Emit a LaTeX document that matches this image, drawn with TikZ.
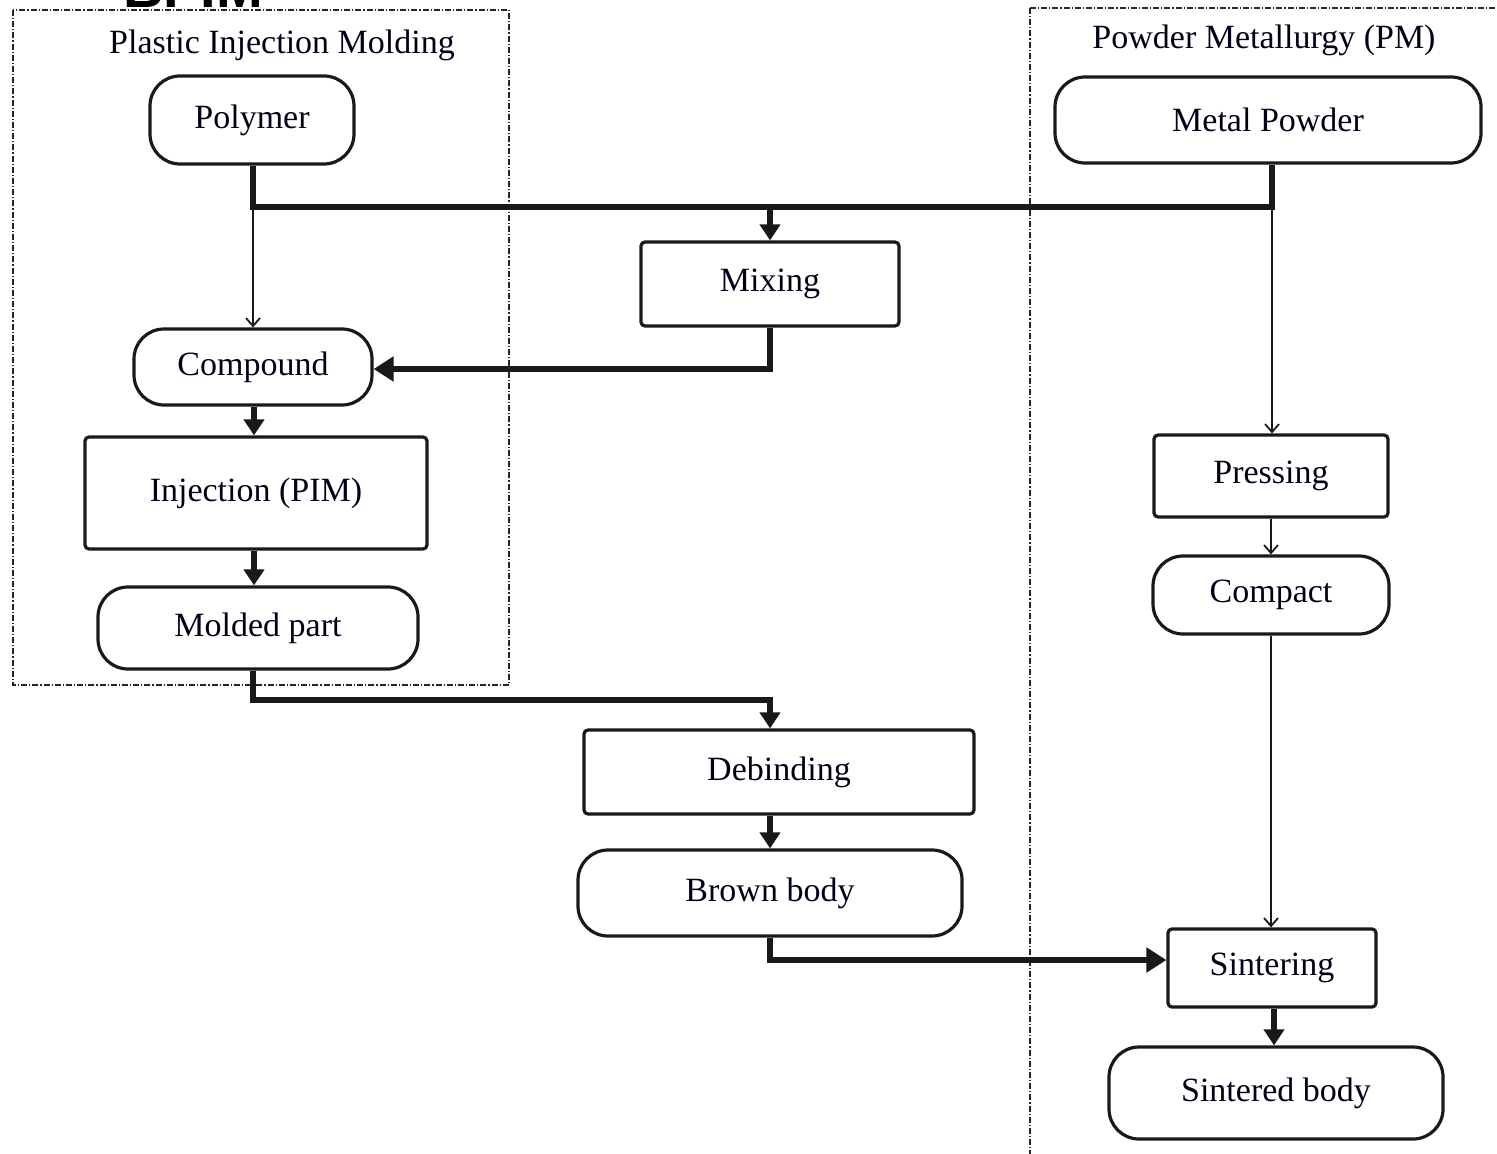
\documentclass[tikz,border=0pt]{standalone}
\usepackage{fontspec}
\setmainfont{Liberation Serif}
\newfontfamily\titlesans{Liberation Sans}
\usetikzlibrary{arrows.meta,positioning}
\begin{document}
\begin{tikzpicture}[x=0.5pt,y=-0.5pt,
  every node/.style={font=\fontsize{17}{20}\selectfont, text=black!90!blue},
  term/.style={draw=black!90, line width=1.6pt, rounded corners=15pt, inner sep=0pt, fill=white},
  proc/.style={draw=black!90, line width=1.6pt, rounded corners=2pt, inner sep=0pt, fill=white},
  grp/.style={draw=black!85, line width=1.2pt, dash pattern=on 3pt off 1pt on 0.6pt off 1pt},
  thick conn/.style={line width=3pt, draw=black!90},
  thin conn/.style={line width=0.9pt, draw=black!90},
  bigtip/.style={-{Triangle[length=8pt,width=10pt]}},
  hugetip/.style={-{Triangle[length=10pt,width=12pt]}},
  barb/.style={-{Straight Barb[length=4pt,width=7pt]}},
  ttl/.style={font=\fontsize{17}{20}\selectfont}
]
\useasboundingbox (0,0) rectangle (1497,1154);
\fill[white] (0,0) rectangle (1497,1154);

% cut-off heading
\node[anchor=base, font=\titlesans\bfseries\fontsize{28}{30}\selectfont, text=black] (hdr) at (193,8) {BPIM};

% group frames
\draw[grp] (13,10) rectangle (509,685);
\draw[grp] (1030,8) -- (1510,8);
\draw[grp] (1030,8) -- (1030,1165);
\node[ttl] (tl) at (282,45) {Plastic Injection Molding};
\node[ttl] (tr) at (1264,40) {Powder Metallurgy (PM)};

% nodes
\node[term, minimum width=102pt, minimum height=44pt] (poly) at (252,120) {Polymer};
\node[term, minimum width=213pt, minimum height=43pt] (metal) at (1268,120) {Metal Powder};
\node[proc, minimum width=129pt, minimum height=42pt] (mix) at (770,284) {Mixing};
\node[term, minimum width=119pt, minimum height=38pt] (comp) at (253,367) {Compound};
\node[proc, minimum width=171pt, minimum height=56pt] (inj) at (256,493) {Injection (PIM)};
\node[term, minimum width=160pt, minimum height=41pt] (mold) at (258,628) {Molded part};
\node[proc, minimum width=195pt, minimum height=42pt] (deb) at (779,772) {Debinding};
\node[term, minimum width=192pt, minimum height=43pt] (brown) at (770,893) {Brown body};
\node[proc, minimum width=117pt, minimum height=41pt] (press) at (1271,476) {Pressing};
\node[term, minimum width=118pt, minimum height=39pt] (compact) at (1271,595) {Compact};
\node[proc, minimum width=104pt, minimum height=39pt] (sint) at (1272,968) {Sintering};
\node[term, minimum width=167pt, minimum height=46pt] (sbody) at (1276,1093) {Sintered body};

% junction coordinates
\coordinate (jl) at (253,207);
\coordinate (jr) at (1272,207);
\coordinate (jm) at (770,207);

% connectors
\draw[thick conn] (poly.south -| jl) -- (jl) -- (jr) -- (metal.south -| jr);
\draw[thick conn, bigtip] (jm) -- (mix.north -| jm);
\draw[thin conn, barb] (jl) -- (comp.north -| jl);
\draw[thin conn, barb] (jr) -- (press.north -| jr);
\draw[thick conn, hugetip] (mix.south) -- (770,369) -- (comp.east |- 0,369);
\draw[thick conn, bigtip] (comp.south -| 254,0) -- (inj.north -| 254,0);
\draw[thick conn, bigtip] (inj.south -| 254,0) -- (mold.north -| 254,0);
\draw[thick conn, bigtip] (mold.south -| 253,0) -- (253,700) -- (770,700) -- (deb.north -| 770,0);
\draw[thick conn, bigtip] (deb.south -| 770,0) -- (brown.north -| 770,0);
\draw[thick conn, hugetip] (brown.south -| 770,0) -- (770,960) -- (sint.west |- 0,960);
\draw[thin conn, barb] (press.south -| 1271,0) -- (compact.north -| 1271,0);
\draw[thin conn, barb] (compact.south -| 1271,0) -- (sint.north -| 1271,0);
\draw[thick conn, bigtip] (sint.south -| 1274,0) -- (sbody.north -| 1274,0);
\end{tikzpicture}
\end{document}
